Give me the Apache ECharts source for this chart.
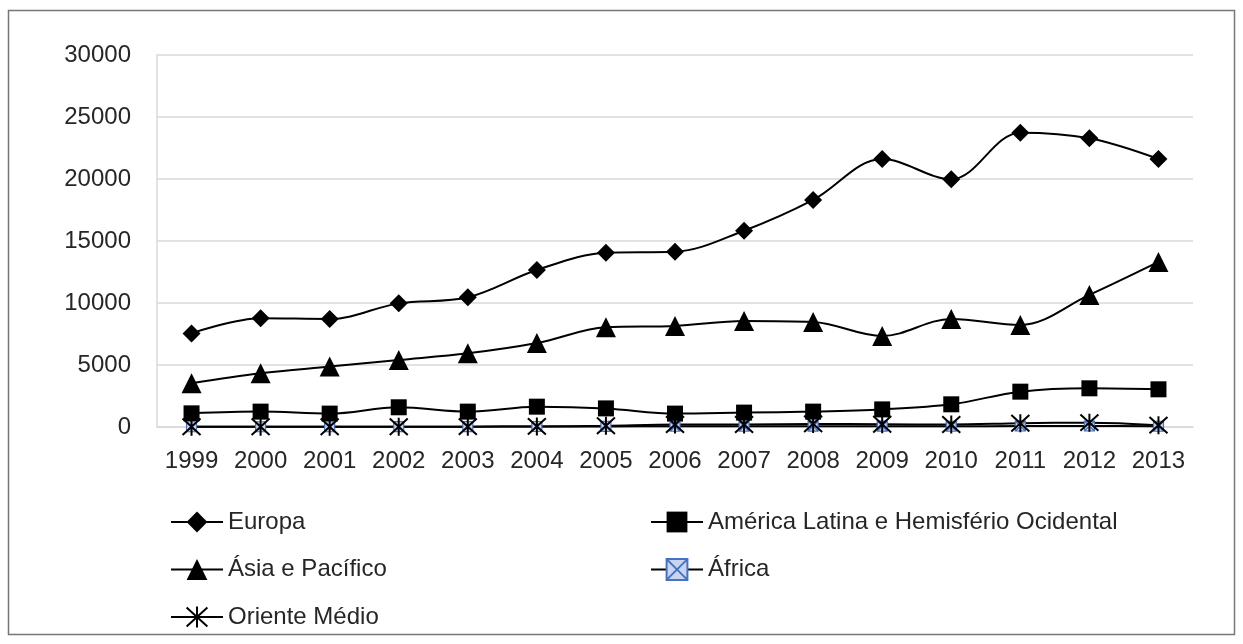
<!DOCTYPE html>
<html>
<head>
<meta charset="utf-8">
<script src="https://cdn.jsdelivr.net/npm/echarts@6/dist/echarts.min.js"></script>
<style>
  html, body { margin: 0; padding: 0; background: #fff; }
  #main { width: 1243px; height: 644px; }
</style>
</head>
<body>
<div id="main"></div>
<script>
var anos = ['1999','2000','2001','2002','2003','2004','2005','2006','2007','2008','2009','2010','2011','2012','2013'];
var europa = [7550, 8770, 8710, 9970, 10460, 12660, 14060, 14140, 15830, 18310, 21610, 19980, 23730, 23280, 21610];
var americaLatina = [1100, 1240, 1080, 1590, 1240, 1640, 1500, 1080, 1160, 1240, 1420, 1830, 2850, 3120, 3040];
var asia = [3520, 4330, 4870, 5400, 5940, 6770, 8040, 8150, 8550, 8470, 7340, 8710, 8230, 10650, 13310];
var africa = [20, 20, 20, 30, 30, 40, 50, 60, 60, 70, 70, 60, 80, 80, 60];
var orienteMedio = [20, 20, 20, 20, 30, 50, 100, 200, 200, 250, 220, 200, 300, 350, 150];
var yTicks = [0, 5000, 10000, 15000, 20000, 25000, 30000];

var fonte = '"Liberation Sans", Arial, sans-serif';
var asterisco = 'path://M0,0L20,20M20,0L0,20M10,-1L10,21';
var quadX = 'path://M0,0L10,0L10,10L0,10ZM0,0L10,10M10,0L0,10';

var chart = echarts.init(document.getElementById('main'));

// linha preta com marcador
function serie(nome, dados, simbolo, tam, estilo) {
    return {
        name: nome,
        type: 'line',
        data: dados,
        smooth: 0.35,
        symbol: simbolo,
        symbolSize: tam,
        showAllSymbol: true,
        lineStyle: {color: '#000', width: 2},
        itemStyle: estilo || {color: '#000'},
        emphasis: {disabled: true},
        z: 3
    };
}

var legendaBase = {
    orient: 'vertical',
    top: 504,
    itemWidth: 52,
    itemHeight: 26,
    itemGap: 21.5,
    selectedMode: false,
    textStyle: {color: '#262626', fontFamily: fonte, fontSize: 24, lineHeight: 26}
};

chart.setOption({
    animation: false,
    graphic: [{
        type: 'rect',
        shape: {x: 8.5, y: 10.5, width: 1226, height: 624},
        style: {fill: 'none', stroke: '#767676', lineWidth: 1.5},
        silent: true
    }],
    grid: {left: 157, right: 50, top: 55, bottom: 217},
    xAxis: {
        type: 'category',
        data: anos,
        boundaryGap: true,
        axisLine: {lineStyle: {color: '#d9d9d9', width: 1.5}},
        axisTick: {show: false},
        axisLabel: {color: '#262626', fontFamily: fonte, fontSize: 24, margin: 22, interval: 0, hideOverlap: false}
    },
    yAxis: {
        type: 'value',
        min: yTicks[0],
        max: yTicks[yTicks.length - 1],
        interval: 5000,
        axisLine: {show: true, lineStyle: {color: '#d9d9d9', width: 1.5}},
        axisTick: {show: false},
        splitLine: {lineStyle: {color: '#d9d9d9', width: 1.5}},
        axisLabel: {color: '#262626', fontFamily: fonte, fontSize: 24, margin: 26, formatter: function (v) { return String(v); }}
    },
    legend: [
        Object.assign({}, legendaBase, {
            left: 165,
            data: ['Europa', 'Ásia e Pacífico', 'Oriente Médio']
        }),
        Object.assign({}, legendaBase, {
            left: 645,
            data: ['América Latina e Hemisfério Ocidental', 'África']
        })
    ],
    series: [
        serie('Europa', europa, 'diamond', 18),
        serie('América Latina e Hemisfério Ocidental', americaLatina, 'rect', 16),
        serie('Ásia e Pacífico', asia, 'triangle', 20),
        serie('África', africa, quadX, 10, {color: '#c9d5ee', borderColor: '#4472c4', borderWidth: 1.2}),
        serie('Oriente Médio', orienteMedio, asterisco, 18, {color: 'none', borderColor: '#000', borderWidth: 2})
    ]
});
</script>
</body>
</html>
